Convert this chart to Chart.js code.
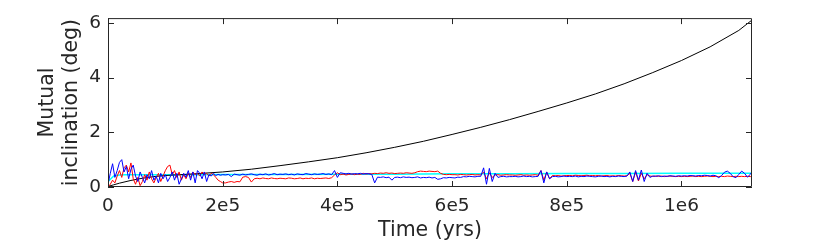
<!DOCTYPE html>
<html><head><meta charset="utf-8">
<script src="https://cdn.jsdelivr.net/npm/chart.js@4/dist/chart.umd.min.js"></script>
<style>html,body{margin:0;padding:0;background:#fff}canvas{display:block}</style>
</head><body>
<canvas id="c" width="831" height="245"></canvas>
<script>
// time in kyr
const timeNoisy = [0,4,8,12,16,20,24,28,32,36,40,44,48,52,56,60,64,68,72,76,80,84,88,92,96,100,104,108,112,116,120,124,128,132,136,140,144,148,152,156,160,164,168,172,176,180,184,188,192,196,200,
205,210,215,220,225,230,235,240,245,250,255,260,265,270,275,280,285,290,295,300,
305,310,315,320,325,330,335,340,345,350,355,360,365,370,375,380,385,390,395,400,
405,410,415,420,425,430,435,440,445,450,455,460,465,470,475,480,485,490,495,500,
505,510,515,520,525,530,535,540,545,550,555,560,565,570,575,580,585,590,595,600,
605,610,615,620,625,630,635,640,645,650,655,660,665,670,675,680,685,690,695,700,
705,710,715,720,725,730,735,740,745,750,755,760,765,770,775,780,785,790,795,800,
805,810,815,820,825,830,835,840,845,850,855,860,865,870,875,880,885,890,895,900,
905,910,915,920,925,930,935,940,945,950,955,960,965,970,975,980,985,990,995,1000,
1005,1010,1015,1020,1025,1030,1035,1040,1045,1050,1055,1060,1065,1070,1075,1080,1085,1090,1095,1100,
1105,1110,1115,1120,1123];

const blueValues = [0.1,0.5,0.85,0.35,0.6,0.9,1.0,0.55,0.75,0.3,0.65,0.8,0.4,0.2,0.55,0.35,0.15,0.45,0.3,0.6,0.25,0.4,0.15,0.5,0.3,0.45,0.2,0.35,0.55,0.25,0.5,0.1,0.3,0.5,0.35,0.6,0.25,0.55,0.15,0.6,0.5,0.3,0.55,0.2,0.45,0.4,0.5,0.42,0.46,0.43,0.45,
0.44,0.46,0.38,0.47,0.45,0.43,0.47,0.44,0.46,0.48,0.45,0.43,0.47,0.45,0.48,0.44,0.46,0.49,0.45,0.47,
0.46,0.48,0.45,0.47,0.44,0.48,0.46,0.45,0.49,0.47,0.45,0.48,0.46,0.47,0.49,0.46,0.48,0.45,0.6,0.35,
0.52,0.5,0.48,0.5,0.47,0.49,0.48,0.5,0.47,0.49,0.48,0.46,0.15,0.36,0.35,0.37,0.34,0.36,0.25,0.35,
0.36,0.34,0.37,0.35,0.36,0.34,0.35,0.37,0.33,0.35,0.34,0.36,0.33,0.35,0.28,0.3,0.34,0.33,0.35,0.34,
0.33,0.36,0.35,0.38,0.37,0.39,0.38,0.37,0.39,0.39,0.7,0.1,0.68,0.2,0.5,0.35,0.38,0.39,0.37,0.38,
0.38,0.39,0.37,0.38,0.4,0.38,0.39,0.37,0.38,0.39,0.6,0.15,0.55,0.3,0.38,0.39,0.37,0.38,0.4,0.38,
0.39,0.38,0.4,0.37,0.39,0.38,0.4,0.39,0.38,0.37,0.39,0.4,0.38,0.39,0.37,0.39,0.38,0.4,0.39,0.38,
0.4,0.55,0.2,0.6,0.25,0.62,0.2,0.5,0.35,0.4,0.39,0.41,0.38,0.4,0.39,0.41,0.4,0.39,0.41,0.4,
0.41,0.4,0.42,0.41,0.4,0.42,0.41,0.43,0.42,0.4,0.43,0.41,0.34,0.42,0.54,0.58,0.5,0.38,0.34,0.46,
0.58,0.5,0.36,0.46,0.56];

const redValues = [0.0,0.1,0.25,0.15,0.4,0.6,0.35,0.7,0.8,0.55,0.88,0.3,0.1,0.35,0.05,0.2,0.45,0.25,0.55,0.3,0.15,0.35,0.5,0.2,0.4,0.6,0.75,0.8,0.45,0.6,0.35,0.55,0.25,0.45,0.3,0.5,0.35,0.55,0.45,0.5,0.4,0.55,0.45,0.5,0.4,0.5,0.45,0.35,0.25,0.2,0.15,
0.15,0.18,0.2,0.17,0.2,0.19,0.36,0.38,0.35,0.18,0.3,0.32,0.3,0.33,0.31,0.3,0.33,0.31,0.3,0.32,
0.31,0.3,0.33,0.32,0.3,0.31,0.33,0.3,0.32,0.31,0.33,0.3,0.32,0.31,0.32,0.33,0.31,0.34,0.44,0.52,
0.45,0.47,0.44,0.46,0.48,0.45,0.47,0.46,0.5,0.47,0.49,0.48,0.5,0.49,0.51,0.5,0.52,0.5,0.51,0.49,
0.5,0.51,0.5,0.52,0.51,0.5,0.52,0.56,0.58,0.57,0.56,0.58,0.57,0.56,0.58,0.5,0.46,0.45,0.46,0.45,
0.45,0.44,0.46,0.45,0.44,0.45,0.46,0.44,0.45,0.44,0.55,0.3,0.52,0.35,0.44,0.45,0.43,0.44,0.45,0.44,
0.44,0.43,0.44,0.45,0.43,0.44,0.43,0.44,0.45,0.43,0.6,0.25,0.55,0.3,0.42,0.41,0.42,0.4,0.41,0.42,
0.42,0.41,0.43,0.42,0.41,0.42,0.43,0.41,0.42,0.41,0.42,0.4,0.41,0.42,0.4,0.41,0.4,0.42,0.41,0.4,
0.41,0.5,0.2,0.55,0.22,0.5,0.3,0.45,0.4,0.39,0.4,0.39,0.4,0.38,0.39,0.4,0.39,0.38,0.39,0.38,
0.39,0.38,0.39,0.4,0.38,0.39,0.38,0.39,0.4,0.39,0.38,0.39,0.38,0.39,0.38,0.4,0.39,0.38,0.39,0.38,
0.39,0.38,0.39,0.38,0.39];

const timeSmooth = [0,5,10,20,30,50,100,150,200,300,400,500,600,700,800,900,1000,1100,1123];
const cyanValues = [0.2,0.3,0.4,0.44,0.45,0.45,0.45,0.45,0.46,0.46,0.47,0.47,0.48,0.48,0.49,0.49,0.5,0.5,0.5];

const timeBlack = [0,10,20,40,60,80,100,150,200,250,300,350,400,450,500,550,600,650,700,750,800,850,900,950,1000,1050,1100,1123];
const blackValues = [0.02,0.08,0.14,0.24,0.32,0.38,0.42,0.48,0.55,0.65,0.78,0.92,1.07,1.25,1.45,1.67,1.92,2.18,2.46,2.76,3.07,3.4,3.77,4.18,4.62,5.12,5.72,6.1];

const xTickValues = [0,200000,400000,600000,800000,1000000];
const xTickLabels = ['0','2e5','4e5','6e5','8e5','1e6'];
const yTickValues = [0,2,4,6];
const yTickLabels = ['0','2','4','6'];

const pts = (t, v) => t.map((tt, i) => ({x: tt * 1000, y: v[i]}));
const AX = '#262626';
const FONT = 'DejaVu Sans';

const boxTicks = {
  id: 'boxTicks',
  afterDatasetsDraw(chart) {
    const {ctx, chartArea: a, scales: {x, y}} = chart;
    ctx.save();
    ctx.strokeStyle = AX;
    ctx.lineWidth = 1;
    ctx.beginPath();
    ctx.rect(a.left + 0.5, a.top + 0.5, a.right - a.left - 1, a.bottom - a.top - 1);
    const L = 6;
    xTickValues.forEach(v => {
      const px = Math.round(x.getPixelForValue(v)) + 0.5;
      ctx.moveTo(px, a.bottom); ctx.lineTo(px, a.bottom - L);
      ctx.moveTo(px, a.top); ctx.lineTo(px, a.top + L);
    });
    yTickValues.forEach(v => {
      const py = Math.round(y.getPixelForValue(v)) + 0.5;
      ctx.moveTo(a.left, py); ctx.lineTo(a.left + L, py);
      ctx.moveTo(a.right, py); ctx.lineTo(a.right - L, py);
    });
    ctx.stroke();
    ctx.restore();
  }
};

new Chart(document.getElementById('c'), {
  type: 'line',
  data: {
    datasets: [
      {data: pts(timeNoisy, blueValues), borderColor: '#0000ff', borderWidth: 1},
      {data: pts(timeNoisy, redValues), borderColor: '#ff0000', borderWidth: 1},
      {data: pts(timeBlack, blackValues), borderColor: '#000000', borderWidth: 1},
      {data: pts(timeSmooth, cyanValues), borderColor: '#00ffff', borderWidth: 1.5}
    ]
  },
  options: {
    responsive: false,
    animation: false,
    elements: {point: {radius: 0}, line: {tension: 0}},
    layout: {padding: {left: 0, right: 79, top: 17, bottom: 0}},
    plugins: {legend: {display: false}, tooltip: {enabled: false}},
    scales: {
      x: {
        type: 'linear', min: 0, max: 1123000,
        afterBuildTicks: s => { s.ticks = xTickValues.map(v => ({value: v})); },
        afterFit: s => { s.height = 58; },
        grid: {display: false, drawTicks: false},
        border: {display: false},
        ticks: {color: AX, font: {family: FONT, size: 18.5}, padding: 8, maxRotation: 0,
          callback: (v, i) => xTickLabels[i]},
        title: {display: true, text: 'Time (yrs)', color: AX, font: {family: FONT, size: 20.5}, padding: {top: 0, bottom: 2}}
      },
      y: {
        type: 'linear', min: 0, max: 6.17,
        afterBuildTicks: s => { s.ticks = yTickValues.map(v => ({value: v})); },
        afterFit: s => { s.width = 108; },
        grid: {display: false, drawTicks: false},
        border: {display: false},
        ticks: {color: AX, font: {family: FONT, size: 18.5}, padding: 7,
          callback: (v, i) => yTickLabels[i]},
        title: {display: true, text: ['Mutual', 'inclination (deg)'], color: AX, font: {family: FONT, size: 20.5}, padding: {top: 35, bottom: 0}}
      }
    }
  },
  plugins: [boxTicks]
});
</script>
</body></html>
